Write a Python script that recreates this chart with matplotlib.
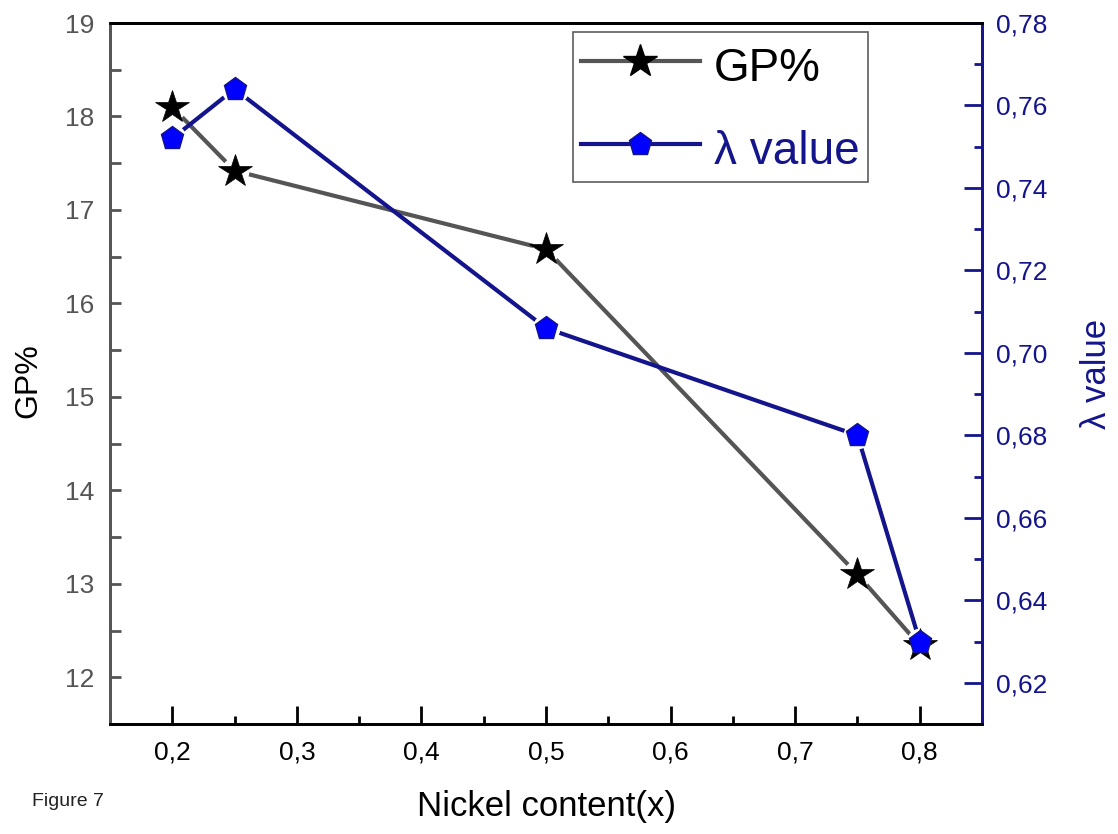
import matplotlib
matplotlib.use("Agg")
import matplotlib.pyplot as plt
from matplotlib.lines import Line2D
from matplotlib.ticker import FixedLocator

plt.rcParams['font.family'] = ['Liberation Sans', 'DejaVu Sans']

nickel = [0.2, 0.25, 0.5, 0.75, 0.8]
gp = [18.10, 17.42, 16.58, 13.10, 12.34]
lam = [0.752, 0.764, 0.706, 0.680, 0.630]

x_ticks = [0.2, 0.3, 0.4, 0.5, 0.6, 0.7, 0.8]
x_labels = ['0,2', '0,3', '0,4', '0,5', '0,6', '0,7', '0,8']
gp_ticks = [12, 13, 14, 15, 16, 17, 18, 19]
gp_labels = ['12', '13', '14', '15', '16', '17', '18', '19']
lam_ticks = [0.62, 0.64, 0.66, 0.68, 0.70, 0.72, 0.74, 0.76, 0.78]
lam_labels = ['0,62', '0,64', '0,66', '0,68', '0,70', '0,72', '0,74', '0,76', '0,78']

GRAY = '#555555'
NAVY = '#14148c'
BLUE = '#0000ff'

fig = plt.figure(figsize=(11.18, 8.34), dpi=100)
ax = fig.add_axes([0.0984, 0.1319, 0.78, 0.8405])
ax2 = ax.twinx()

ax.set_xlim(0.15, 0.85)
ax.set_ylim(11.5, 19)
ax2.set_ylim(0.61, 0.78)
ax2.set_xlim(0.15, 0.85)

gp_tr = ax.transData  # GP% series uses the left axis scale

# lines
ax2.plot(nickel, gp, color=GRAY, lw=3, zorder=2, transform=gp_tr)
ax2.plot(nickel, lam, color=NAVY, lw=3, zorder=2)
# white halos (Origin-style gap around markers)
ax2.plot(nickel, gp, ls='none', marker='o', ms=20, color='white', mew=0,
         zorder=3, transform=gp_tr)
ax2.plot(nickel, lam, ls='none', marker='o', ms=20, color='white', mew=0, zorder=3)
# markers
ax2.plot(nickel, gp, ls='none', marker='*', ms=25, color='black', mec='black',
         mew=0.5, zorder=4, transform=gp_tr)
ax2.plot(nickel, lam, ls='none', marker='p', ms=17, color=BLUE,
         mec=NAVY, mew=1, zorder=5)

# ticks
ax.xaxis.set_major_locator(FixedLocator(x_ticks))
ax.set_xticklabels(x_labels)
ax.xaxis.set_minor_locator(FixedLocator([0.15, 0.25, 0.35, 0.45, 0.55, 0.65, 0.75, 0.85]))
ax.yaxis.set_major_locator(FixedLocator(gp_ticks))
ax.set_yticklabels(gp_labels)
ax.yaxis.set_minor_locator(FixedLocator([11.5, 12.5, 13.5, 14.5, 15.5, 16.5, 17.5, 18.5]))
ax2.yaxis.set_major_locator(FixedLocator(lam_ticks))
ax2.set_yticklabels(lam_labels)
ax2.yaxis.set_minor_locator(FixedLocator([0.63, 0.65, 0.67, 0.69, 0.71, 0.73, 0.75, 0.77]))

ax.tick_params(axis='x', which='major', direction='in', length=13, width=2,
               labelsize=19, pad=12, colors='black', top=False)
ax.tick_params(axis='x', which='minor', direction='in', length=6, width=2, top=False)
ax.tick_params(axis='y', which='major', direction='in', length=8, width=2,
               labelsize=19, pad=11, colors=GRAY)
ax.tick_params(axis='y', which='minor', direction='in', length=8, width=2, colors=GRAY)
ax2.tick_params(axis='y', which='major', direction='in', length=13, width=2,
                labelsize=19, pad=10, colors=NAVY)
ax2.tick_params(axis='y', which='minor', direction='in', length=6, width=2, colors=NAVY)

for a in (ax, ax2):
    a.spines['top'].set_color('black')
    a.spines['bottom'].set_color('black')
    a.spines['left'].set_color(GRAY)
    a.spines['right'].set_color(NAVY)
    for s in a.spines.values():
        s.set_linewidth(2)

ax.set_xlabel('Nickel content(x)', fontsize=25, labelpad=18)
ax.set_ylabel('GP%', fontsize=23)
ax2.set_ylabel('λ value', fontsize=25, color=NAVY, rotation=90)
ax.yaxis.set_label_coords(-0.076, 0.49)
ax2.yaxis.set_label_coords(1.112, 0.5)

handles = [
    Line2D([], [], color=GRAY, lw=3, marker='*', ms=25, mfc='black', mec='black'),
    Line2D([], [], color=NAVY, lw=3, marker='p', ms=17, mfc=BLUE, mec=NAVY),
]
leg = ax2.legend(handles, ['GP%', 'λ value'], loc='upper left',
                 bbox_to_anchor=(0.5305, 0.987), fontsize=33, frameon=True,
                 fancybox=False, edgecolor='#333333', handlelength=2.6,
                 handleheight=1.3, handletextpad=0.3, borderpad=0.18,
                 labelspacing=0.72, borderaxespad=0)
leg.get_frame().set_linewidth(1.2)
leg.get_texts()[1].set_color(NAVY)

fig.text(0.0286, 0.0335, 'Figure 7', fontsize=14, color='#222222')

fig.savefig('out.png', dpi=100)
